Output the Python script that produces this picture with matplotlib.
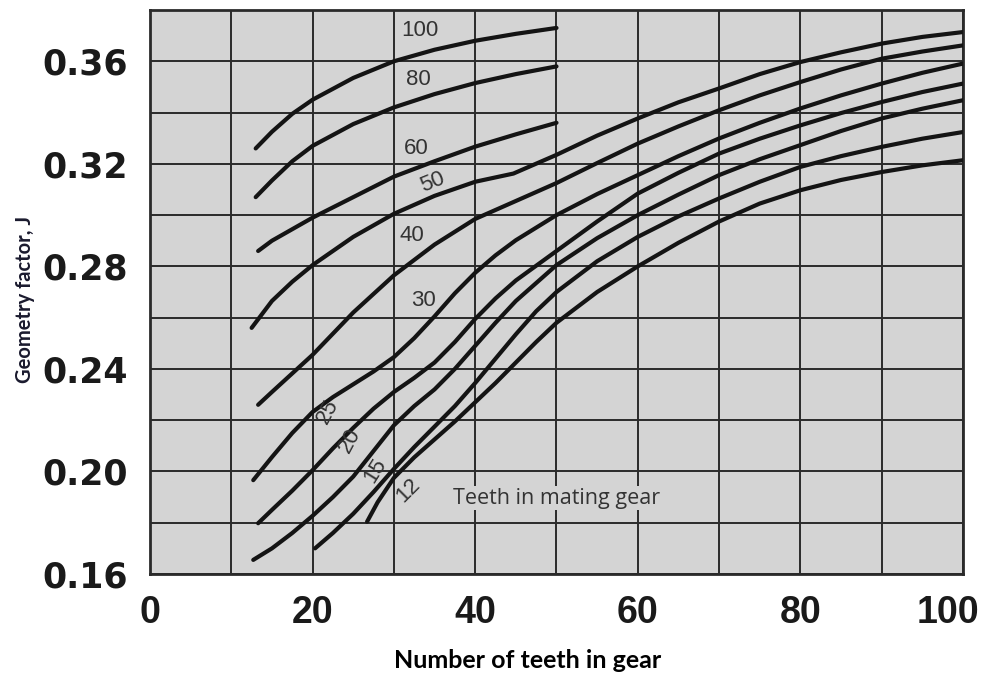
import matplotlib
matplotlib.use("Agg")
import matplotlib.pyplot as plt
from matplotlib.transforms import ScaledTranslation

# teeth in mating gear -> (teeth in gear, geometry factor J)
x_100 = [13, 15, 17.5, 20, 25, 30, 35, 40, 45, 50]
y_100 = [0.326, 0.3325, 0.3395, 0.345, 0.3535, 0.360, 0.3645, 0.368, 0.3707, 0.373]

x_80 = [13, 15, 17.5, 20, 25, 30, 35, 40, 45, 50]
y_80 = [0.307, 0.3135, 0.321, 0.327, 0.3355, 0.342, 0.3472, 0.3515, 0.355, 0.358]

x_60 = [13.3, 15, 20, 25, 30, 35, 40, 45, 50]
y_60 = [0.286, 0.290, 0.299, 0.307, 0.315, 0.321, 0.3267, 0.3315, 0.336]

x_50 = [12.5, 15, 17.5, 20, 25, 30, 35, 40, 44.7, 50, 55, 60, 65, 70, 75, 80, 85, 90, 95, 100]
y_50 = [0.256, 0.2665, 0.274, 0.2805, 0.2915, 0.3005, 0.3075, 0.313, 0.3162, 0.3235,
        0.331, 0.3377, 0.344, 0.3494, 0.355, 0.3597, 0.3635, 0.3669, 0.3695, 0.3714]

x_40 = [13.3, 15, 20, 25, 30, 35, 40, 45, 50, 55, 60, 65, 70, 75, 80, 85, 90, 95, 100]
y_40 = [0.226, 0.231, 0.2455, 0.262, 0.2765, 0.2885, 0.2985, 0.3055, 0.3125, 0.3203,
        0.3279, 0.3346, 0.3409, 0.3467, 0.3519, 0.3568, 0.361, 0.3638, 0.3662]

x_30 = [12.7, 15, 17.5, 20, 22.5, 25, 27.5, 30, 32.5, 35, 37.5, 40, 42.5, 45, 50, 55,
        60, 65, 70, 75, 80, 85, 90, 95, 100]
y_30 = [0.1966, 0.2056, 0.215, 0.2232, 0.229, 0.234, 0.239, 0.2446, 0.252, 0.2605,
        0.2695, 0.2775, 0.2843, 0.2902, 0.300, 0.3082, 0.3156, 0.323, 0.3299, 0.336,
        0.3416, 0.3467, 0.3513, 0.3555, 0.3591]

x_25 = [13.3, 15, 17.5, 20, 22.5, 25, 27.5, 30, 32.5, 35, 37.5, 40, 42.5, 45, 50,
        55, 60, 65, 70, 75, 80, 85, 90, 95, 100]
y_25 = [0.1798, 0.185, 0.1925, 0.2005, 0.209, 0.217, 0.2245, 0.231, 0.2365, 0.2425,
        0.2505, 0.2595, 0.2675, 0.2745, 0.286, 0.2975, 0.3084, 0.3165, 0.324, 0.3298,
        0.335, 0.3398, 0.3441, 0.348, 0.3513]

x_20 = [12.7, 15, 17.5, 20, 22.5, 25, 27.5, 30, 32.5, 35, 37.5, 40, 42.5, 45, 50,
        55, 60, 65, 70, 75, 80, 85, 90, 95, 100]
y_20 = [0.1655, 0.170, 0.176, 0.1827, 0.190, 0.198, 0.208, 0.218, 0.2255, 0.232,
        0.240, 0.249, 0.258, 0.2665, 0.2805, 0.291, 0.300, 0.308, 0.3156, 0.3218,
        0.3273, 0.3328, 0.3377, 0.3415, 0.3448]

x_15 = [20.3, 22.5, 25, 27.5, 30, 32.5, 35, 37.5, 40, 42.5, 45, 47.5, 50, 55, 60,
        65, 70, 75, 80, 85, 90, 95, 100]
y_15 = [0.170, 0.176, 0.1835, 0.192, 0.201, 0.2095, 0.2175, 0.2255, 0.2345, 0.244,
        0.2535, 0.2625, 0.270, 0.282, 0.2915, 0.2995, 0.3065, 0.313, 0.3188, 0.323,
        0.3266, 0.3298, 0.3324]

x_12 = [26.7, 28, 30, 32.5, 35, 37.5, 40, 42.5, 45, 47.5, 50, 55, 60, 65, 70, 75,
        80, 85, 90, 95, 100]
y_12 = [0.1804, 0.188, 0.1975, 0.2055, 0.2125, 0.2195, 0.227, 0.2345, 0.2425, 0.2505,
        0.258, 0.270, 0.280, 0.2892, 0.2975, 0.3045, 0.3097, 0.3137, 0.3168, 0.3194,
        0.3214]

curves = [(x_100, y_100), (x_80, y_80), (x_60, y_60), (x_50, y_50), (x_40, y_40),
          (x_30, y_30), (x_25, y_25), (x_20, y_20), (x_15, y_15), (x_12, y_12)]

# curve labels: text, x, y, rotation
labels = ["100", "80", "60", "50", "40", "30", "25", "20", "15", "12"]
label_x = [33.2, 33.0, 32.7, 34.7, 32.2, 33.6, 21.9, 24.6, 27.7, 31.7]
label_y = [0.3721, 0.3527, 0.3261, 0.3128, 0.2922, 0.2668, 0.2232, 0.2119, 0.2005, 0.1927]
label_rot = [0, 0, 0, 22, 0, 0, 62, 62, 58, 45]

x_ticks = [0, 20, 40, 60, 80, 100]
y_ticks = [0.16, 0.20, 0.24, 0.28, 0.32, 0.36]

fig = plt.figure(figsize=(9.87, 6.79), dpi=100)
ax = fig.add_axes([150 / 987, 1 - 574 / 679, 813 / 987, 564 / 679])
ax.set_facecolor("#d4d4d4")

for xs, ys in curves:
    ax.plot(xs, ys, color="#141414", lw=3.0, solid_capstyle="round",
            solid_joinstyle="round", zorder=3)

for t, lx, ly, r in zip(labels, label_x, label_y, label_rot):
    ax.text(lx, ly, t, fontsize=16, color="#333333", ha="center", va="center",
            rotation=r, family="Liberation Sans", zorder=4)

ax.text(37.3, 0.1896, "Teeth in mating gear", fontsize=15.5, color="#333333",
        ha="left", va="center", family="Open Sans", zorder=4,
        bbox=dict(facecolor="#d4d4d4", edgecolor="none", pad=1))

ax.set_xlim(0, 100)
ax.set_ylim(0.16, 0.38)
ax.set_xticks(x_ticks)
ax.set_yticks(y_ticks)
ax.set_xticks(range(0, 101, 10), minor=True)
ax.set_yticks([0.16 + 0.02 * i for i in range(12)], minor=True)
ax.set_yticklabels([f"{v:.2f}" for v in y_ticks])
ax.grid(which="both", color="#2a2a2a", lw=1.4, zorder=1)
ax.set_axisbelow(True)
ax.tick_params(which="both", length=0)
ax.tick_params(axis="y", pad=16)
ax.tick_params(axis="x", pad=15)
for lab in ax.get_yticklabels():
    lab.set_fontsize(25)
    lab.set_fontweight("bold")
    lab.set_family("DejaVu Sans")
    lab.set_color("#1a1a1a")
for lab in ax.get_xticklabels():
    lab.set_fontsize(27)
    lab.set_fontweight("bold")
    lab.set_family("Liberation Sans")
    lab.set_color("#1a1a1a")
last = ax.get_xticklabels()[-1]
last.set_transform(last.get_transform() + ScaledTranslation(-15 / 100, 0, fig.dpi_scale_trans))
for s in ax.spines.values():
    s.set_color("#2a2a2a")
    s.set_linewidth(2)

ax.set_xlabel("Number of teeth in gear", fontsize=18, fontweight="bold", family="Lato")
ax.xaxis.set_label_coords(0.465, -0.133)
ax.set_ylabel("Geometry factor, J", fontsize=14.5, fontweight="bold",
              family="Lato", color="#1a1a2e")
ax.yaxis.set_label_coords(-0.142, 0.486)

fig.savefig("out.png", dpi=100, facecolor="white")
